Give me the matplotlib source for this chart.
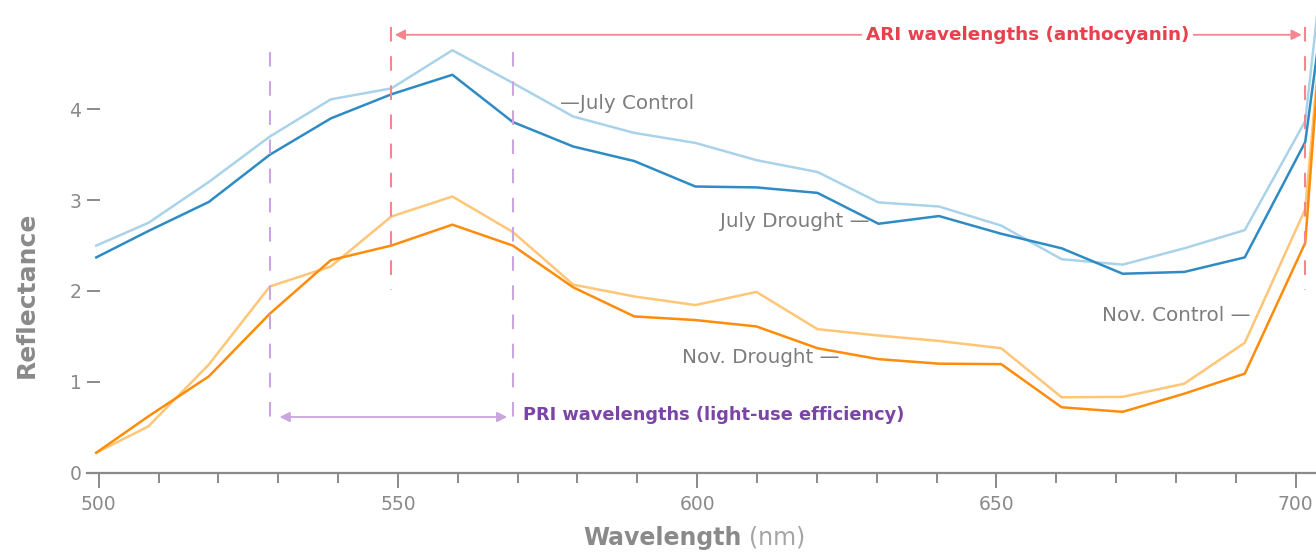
import matplotlib
matplotlib.use("Agg")
import matplotlib.pyplot as plt

# Band centres (nm) of the spectral samples
wavelength = [499.6, 508.3, 518.4, 528.6, 538.8, 548.9, 559.1, 569.2, 579.3, 589.5,
              599.7, 609.9, 620.1, 630.3, 640.4, 650.8, 660.9, 671.1, 681.4, 691.5,
              701.6, 711.7]

july_control = [2.50, 2.75, 3.20, 3.70, 4.11, 4.23, 4.65, 4.29, 3.92, 3.74,
                3.63, 3.44, 3.31, 2.975, 2.93, 2.72, 2.35, 2.29, 2.47, 2.67,
                3.87, 9.8]
july_drought = [2.37, 2.66, 2.98, 3.50, 3.90, 4.165, 4.38, 3.86, 3.59, 3.43,
                3.15, 3.14, 3.08, 2.74, 2.825, 2.63, 2.47, 2.19, 2.21, 2.37,
                3.64, 8.6]
nov_control = [0.22, 0.51, 1.19, 2.05, 2.27, 2.82, 3.04, 2.65, 2.07, 1.94,
               1.845, 1.99, 1.58, 1.51, 1.45, 1.37, 0.83, 0.835, 0.98, 1.43,
               2.90, 10.3]
nov_drought = [0.22, 0.62, 1.06, 1.75, 2.34, 2.50, 2.73, 2.50, 2.04, 1.72,
               1.68, 1.61, 1.37, 1.25, 1.20, 1.195, 0.72, 0.67, 0.87, 1.09,
               2.53, 11.4]

x_major = [500, 550, 600, 650, 700]
x_minor = [510, 520, 530, 540, 560, 570, 580, 590, 610, 620, 630, 640,
           660, 670, 680, 690]
y_ticks = [0, 1, 2, 3, 4]

# Spectral bands used by the two indices (indices into `wavelength`)
pri_bands = (3, 7)
ari_bands = (5, 20)

GRAY = "#8a8a8a"
LABEL_GRAY = "#7d7d7d"
C_JULY_CTRL = "#aad3e9"
C_JULY_DRT = "#2e8bc3"
C_NOV_CTRL = "#ffc678"
C_NOV_DRT = "#ff8c0a"
RED_LINE = "#f4868e"
RED_TEXT = "#e8404c"
PURPLE_LINE = "#c9a6dd"
PURPLE_TEXT = "#7a45a6"

plt.rcParams["font.family"] = ["DejaVu Sans"]

W, H = 1316, 552
fig = plt.figure(figsize=(W / 100, H / 100), dpi=100)
ax_left, ax_bottom = 87, 472.7
ax = fig.add_axes([ax_left / W, (H - ax_bottom) / H, 1 - ax_left / W, ax_bottom / H])
ax.set_xlim(498.05, 703.4)
ax.set_ylim(0, 5.203)

for y, c in ((july_control, C_JULY_CTRL), (july_drought, C_JULY_DRT),
             (nov_control, C_NOV_CTRL), (nov_drought, C_NOV_DRT)):
    ax.plot(wavelength, y, color=c, lw=1.8, solid_joinstyle="round", zorder=3)

# Axis styling
for s in ("top", "right", "left"):
    ax.spines[s].set_visible(False)
ax.spines["bottom"].set_color(GRAY)
ax.spines["bottom"].set_linewidth(1.6)
ax.set_xticks(x_major)
ax.set_xticks(x_minor, minor=True)
ax.set_yticks(y_ticks)
ax.tick_params(axis="x", which="major", direction="out", length=11, width=1.4,
               color=GRAY, pad=5, labelsize=13.5, labelcolor=GRAY)
ax.tick_params(axis="x", which="minor", direction="out", length=7.5, width=1.4,
               color=GRAY)
ax.tick_params(axis="y", direction="in", length=9.5, width=1.4, color=GRAY,
               pad=4, labelsize=13.5, labelcolor=GRAY)

# Series labels
lab = dict(fontsize=14.3, color=LABEL_GRAY, va="center")
ax.text(577.1, 4.066, "\u2014July Control", ha="left", **lab)
ax.text(628.8, 2.763, "July Drought \u2014", ha="right", **lab)
ax.text(623.8, 1.263, "Nov. Drought \u2014", ha="right", **lab)
ax.text(692.5, 1.728, "Nov. Control \u2014", ha="right", **lab)

dash = (0, (7, 7))

# ARI band markers (drawn top-down so the dash pattern starts at the top)
ari_lo, ari_hi = wavelength[ari_bands[0]], wavelength[ari_bands[1]]
for xv in (ari_lo, ari_hi):
    ax.plot([xv, xv], [4.906, 2.01], color=RED_LINE, lw=1.5, ls=dash, zorder=4,
            clip_on=False)
ax.annotate("", xy=(ari_lo, 4.82), xytext=(ari_hi, 4.82),
            arrowprops=dict(arrowstyle="<|-|>", color=RED_LINE, lw=1.3,
                            shrinkA=2.5, shrinkB=2.5, mutation_scale=15),
            zorder=4)
ax.text(655.2, 4.82, "ARI wavelengths (anthocyanin)", ha="center", va="center",
        fontsize=13.2, fontweight="bold", color=RED_TEXT, zorder=5,
        bbox=dict(fc="white", ec="none", pad=3))

# PRI band markers
pri_lo, pri_hi = wavelength[pri_bands[0]], wavelength[pri_bands[1]]
for xv in (pri_lo, pri_hi):
    ax.plot([xv, xv], [4.63, 0.525], color=PURPLE_LINE, lw=1.5, ls=dash, zorder=4)
ax.annotate("", xy=(pri_lo, 0.613), xytext=(pri_hi, 0.613),
            arrowprops=dict(arrowstyle="<|-|>", color=PURPLE_LINE, lw=1.3,
                            shrinkA=4, shrinkB=7, mutation_scale=15),
            zorder=4)
ax.text(570.9, 0.63, "PRI wavelengths (light-use efficiency)", ha="left",
        va="center", fontsize=12.8, fontweight="bold", color=PURPLE_TEXT, zorder=5)

# Axis titles
fig.text(27 / W, (H - 294.5) / H, "Reflectance", rotation=90, ha="center",
         va="center", fontsize=18, fontweight="bold", color=GRAY)
fig.text(741.7 / W, (H - 545) / H, "Wavelength", ha="right", va="baseline",
         fontsize=17, fontweight="bold", color=GRAY)
fig.text(749 / W, (H - 545) / H, "(nm)", ha="left", va="baseline",
         fontsize=17, color="#a5a5a5")

fig.savefig("out.png", dpi=100)
